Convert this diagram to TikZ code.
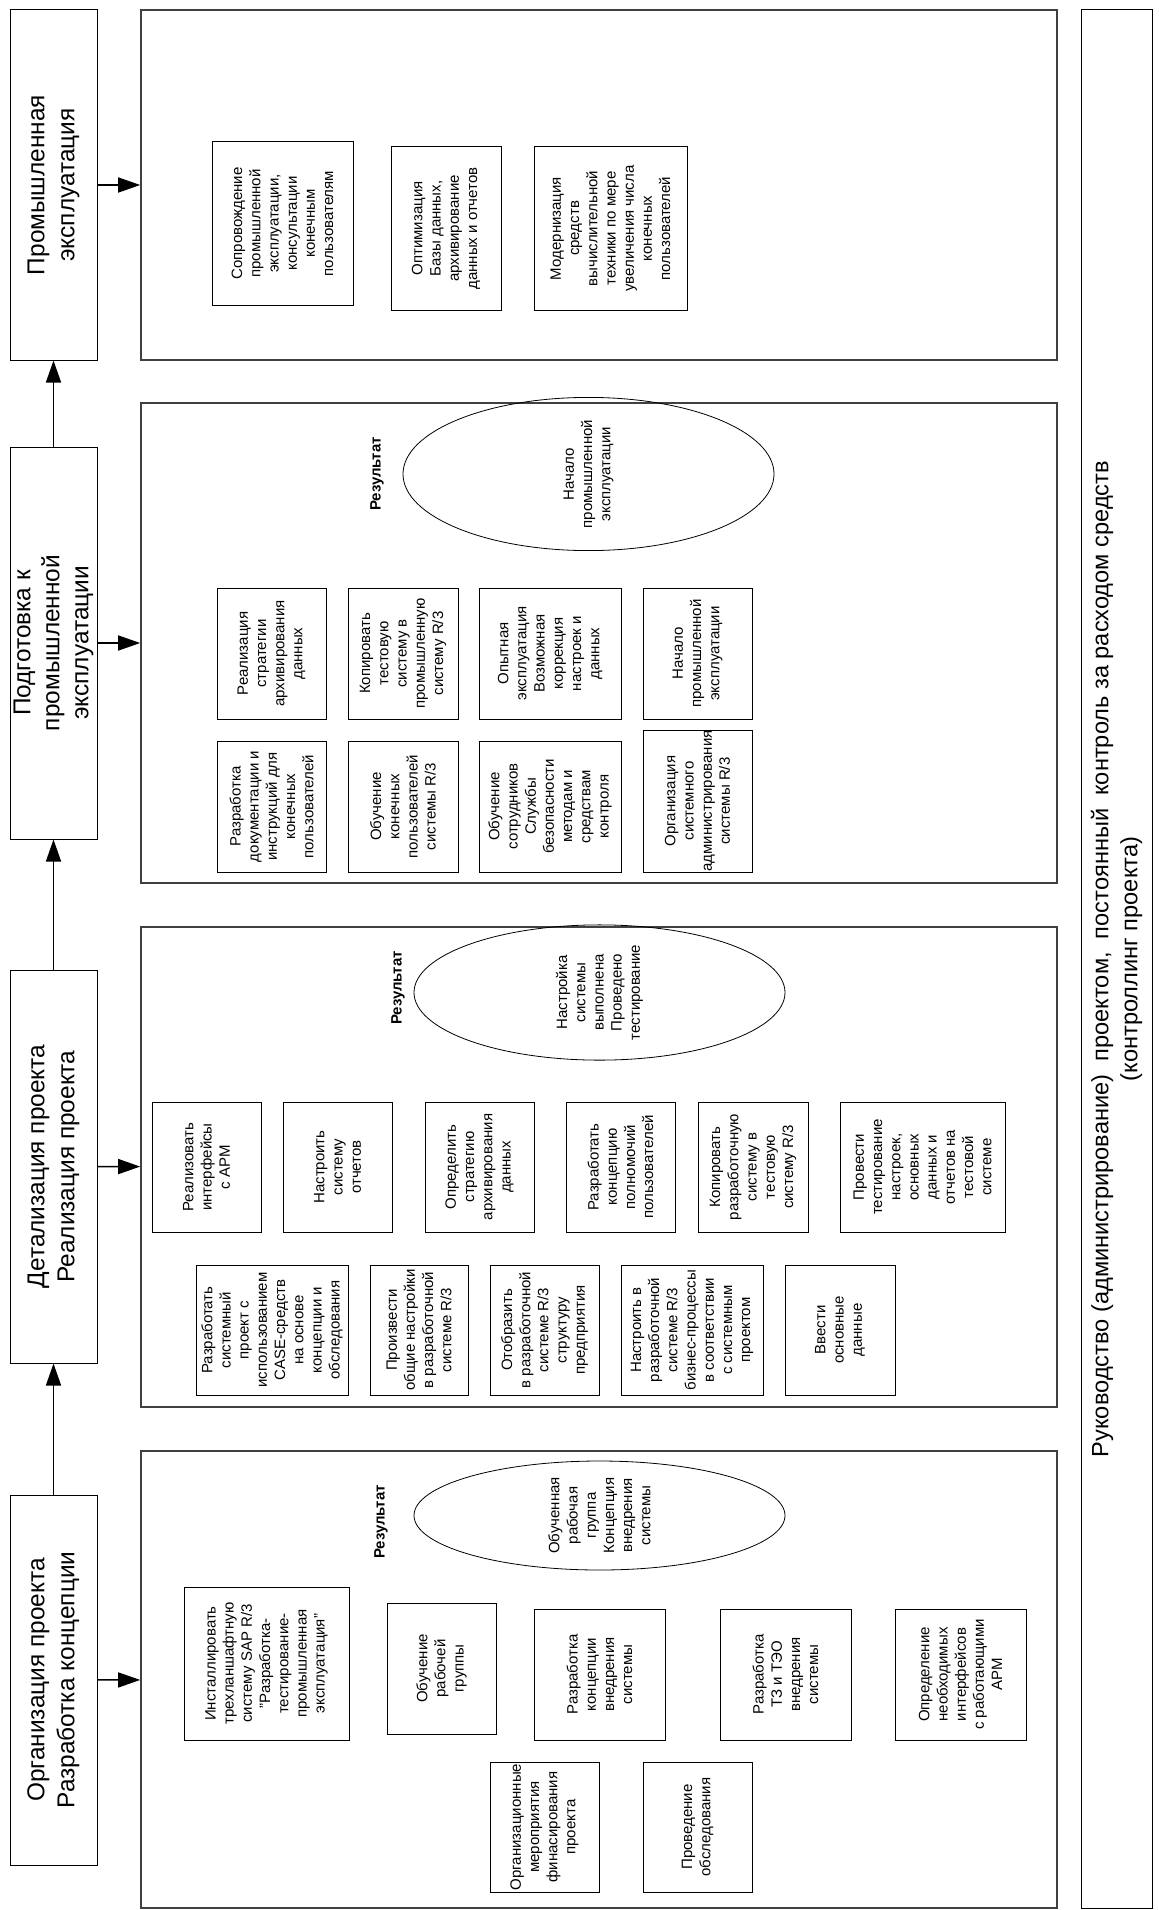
\documentclass[tikz,border=0pt]{standalone}
\usepackage{fontspec}
\setmainfont{Liberation Sans}
\usepackage{xcolor}
\usepackage{tikz}
\usetikzlibrary{shapes.geometric,arrows.meta,positioning}
\newcommand{\stagefont}{\fontsize{12.2}{15}\selectfont}
\newcommand{\taskfont}{\fontsize{7.5}{9.1}\selectfont}

\begin{document}
\begin{tikzpicture}[x=0.5pt, y=-0.5pt,
          every node/.style={align=center, inner sep=0pt},
          stage/.style={draw, line width=0.5pt, rotate=90, font=\stagefont},
          phase/.style={draw=black!75, line width=0.8pt, minimum width=458pt},
          task/.style={draw, line width=0.5pt, rotate=90, font=\taskfont},
          outcome/.style={draw, ellipse, line width=0.4pt, rotate=90, font=\taskfont,
                minimum width=54.5pt, minimum height=185.5pt},
          reslabel/.style={rotate=90, font=\taskfont\bfseries},
          flow/.style={-{Triangle[length=11pt,width=7.5pt]}, line width=0.75pt},
        ]
            \useasboundingbox (0,0) rectangle (1158,1910);

            \draw node[stage, minimum width=175pt, minimum height=43.5pt] (s1) at (53.5,185)
                {Промышленная\\эксплуатация};
            \draw node[stage, minimum width=196pt, minimum height=43.5pt, font=\fontsize{12.2}{14.5}\selectfont]
                (s2) at (53.5,643) {Подготовка к\\промышленной\\эксплуатации};
            \draw node[stage, minimum width=196.5pt, minimum height=43.5pt] (s3) at (53.5,1166.5)
                {Детализация проекта\\Реализация проекта};
            \draw node[stage, minimum width=185pt, minimum height=43.5pt] (s4) at (53.5,1680)
                {Организация проекта\\Разработка концепции};

            \draw node[phase, minimum height=175pt] (c1) at (599,185) {};
            \draw node[phase, minimum height=240pt] (c2) at (599,643) {};
            \draw node[phase, minimum height=240pt] (c3) at (599,1167) {};
            \draw node[phase, minimum height=228.5pt] (c4) at (599,1679.5) {};

            \draw node[stage, minimum width=949pt, minimum height=35.5pt, font=\fontsize{11.8}{14.5}\selectfont]
                (lead) at (1116.5,959)
                {Руководство (администрирование)\ \ проектом,\ \ постоянный\ \ контроль за расходом средств\\(контроллинг проекта)};

            \draw node[task, minimum width=81.5pt, minimum height=70.5pt] (support) at (282.5,223.5)
                {Сопровождение\\промышленной\\эксплуатации,\\консультации\\конечным\\пользователям};
            \draw node[task, minimum width=81.5pt, minimum height=55pt] (tuning) at (446,228.5)
                {Оптимизация\\Базы данных,\\архивирование\\данных и отчетов};
            \draw node[task, minimum width=81.5pt, minimum height=76.5pt] (upgrade) at (610.5,228.5)
                {Модернизация\\средств\\вычислительной\\техники по мере\\увеличения числа\\конечных\\пользователей};

            \draw node[reslabel] (res2) at (377,474) {Результат};
            \draw node[outcome] (goal2) at (588.5,474) {Начало\\промышленной\\эксплуатации};
            \draw node[task, minimum width=65.5pt, minimum height=54.5pt] (archive) at (271.5,653.5)
                {Реализация\\стратегии\\архивирования\\данных};
            \draw node[task, minimum width=65.5pt, minimum height=54.5pt] (manuals) at (271.5,806.5)
                {Разработка\\документации и\\инструкций для\\конечных\\пользователей};
            \draw node[task, minimum width=65.5pt, minimum height=55pt] (copyprod) at (403,653.5)
                {Копировать\\тестовую\\систему в\\промышленную\\систему R/3};
            \draw node[task, minimum width=65.5pt, minimum height=55pt] (enduser) at (403,806.5)
                {Обучение\\конечных\\пользователей\\системы R/3};
            \draw node[task, minimum width=65.5pt, minimum height=71pt] (pilot) at (550,653.5)
                {Опытная\\эксплуатация\\Возможная\\коррекция\\настроек и\\данных};
            \draw node[task, minimum width=65.5pt, minimum height=71pt] (security) at (550,806.5)
                {Обучение\\сотрудников\\Службы\\безопасности\\методам и\\средствам\\контроля};
            \draw node[task, minimum width=65.5pt, minimum height=54.5pt] (golive) at (697.5,653.5)
                {Начало\\промышленной\\эксплуатации};
            \draw node[task, minimum width=71pt, minimum height=54.5pt] (sysadmin) at (697.5,801)
                {Организация\\системного\\администрирования\\системы R/3};

            \draw node[reslabel] (res3) at (398,988) {Результат};
            \draw node[outcome] (goal3) at (599.5,992.5)
                {Настройка\\системы\\выполнена\\Проведено\\тестирование};
            \draw node[task, minimum width=65pt, minimum height=54.5pt] (apm) at (206.5,1167)
                {Реализовать\\интерфейсы\\с АРМ};
            \draw node[task, minimum width=65pt, minimum height=54.5pt] (reports) at (337.5,1167)
                {Настроить\\систему\\отчетов};
            \draw node[task, minimum width=65pt, minimum height=54.5pt] (archdef) at (479.5,1167)
                {Определить\\стратегию\\архивирования\\данных};
            \draw node[task, minimum width=65pt, minimum height=54.5pt] (rights) at (620.5,1167)
                {Разработать\\концепцию\\полномочий\\пользователей};
            \draw node[task, minimum width=65pt, minimum height=55pt] (copytest) at (753,1167)
                {Копировать\\разработочную\\систему в\\тестовую\\систему R/3};
            \draw node[task, minimum width=65pt, minimum height=82.5pt] (testing) at (922.5,1167)
                {Провести\\тестирование\\настроек,\\основных\\данных и\\отчетов на\\тестовой\\системе};
            \draw node[task, minimum width=65pt, minimum height=76pt] (sysproj) at (272,1330)
                {Разработать\\системный\\проект с\\использованием\\CASE-средств\\на основе\\концепции и\\обследования};
            \draw node[task, minimum width=65pt, minimum height=49pt] (general) at (419,1330)
                {Произвести\\общие настройки\\в разработочной\\системе R/3};
            \draw node[task, minimum width=65pt, minimum height=54.5pt] (orgunits) at (544.5,1330)
                {Отобразить\\в разработочной\\системе R/3\\структуру\\предприятия};
            \draw node[task, minimum width=65pt, minimum height=71pt] (bizproc) at (692,1330)
                {Настроить в\\разработочной\\системе R/3\\бизнес-процессы\\в соответствии\\с системным\\проектом};
            \draw node[task, minimum width=65pt, minimum height=55pt] (masterdata) at (840,1330)
                {Ввести\\основные\\данные};

            \draw node[reslabel] (res4) at (381,1522) {Результат};
            \draw node[outcome] (goal4) at (599.5,1515.5)
                {Обученная\\рабочая\\группа\\Концепция\\внедрения\\системы};
            \draw node[task, minimum width=76.5pt, minimum height=82.5pt] (install) at (266.5,1663.5)
                {Инсталлировать\\трехланшафтную\\систему SAP R/3\\"Разработка-\\тестирование-\\промышленная\\эксплуатация"};
            \draw node[task, minimum width=65.5pt, minimum height=54.5pt] (team) at (441.5,1668.5)
                {Обучение\\рабочей\\группы};
            \draw node[task, minimum width=65.5pt, minimum height=65.5pt] (concept) at (599.5,1674.5)
                {Разработка\\концепции\\внедрения\\системы};
            \draw node[task, minimum width=65.5pt, minimum height=65.5pt] (spec) at (785.5,1674.5)
                {Разработка\\ТЗ и ТЭО\\внедрения\\системы};
            \draw node[task, minimum width=65.5pt, minimum height=65.5pt] (ifaces) at (960.5,1674.5)
                {Определение\\необходимых\\интерфейсов\\с работающими\\АРМ};
            \draw node[task, minimum width=65pt, minimum height=54.5pt] (finance) at (544.5,1827)
                {Организационные\\мероприятия\\финасирования\\проекта};
            \draw node[task, minimum width=65pt, minimum height=54.5pt] (survey) at (697.5,1827)
                {Проведение\\обследования};

            \draw[flow] (s4) -- (s3) {};
            \draw[flow] (s3) -- (s2) {};
            \draw[flow] (s2) -- (s1) {};
            \draw[flow] (s1) -- (c1) {};
            \draw[flow] (s2) -- (c2) {};
            \draw[flow] (s3) -- (c3) {};
            \draw[flow] (s4) -- (c4) {};

\end{tikzpicture}
\end{document}
